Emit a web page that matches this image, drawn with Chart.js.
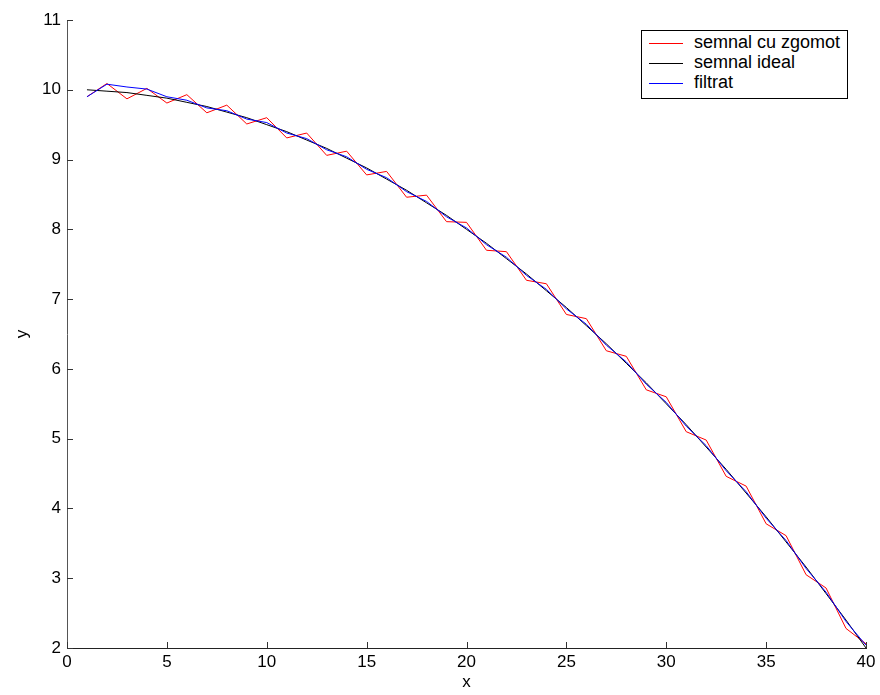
<!DOCTYPE html>
<html lang="ro">
<head>
    <meta charset="UTF-8">
    <title>semnal filtrat</title>
    <script src="https://cdn.jsdelivr.net/npm/chart.js"></script>
    <style>
        body { margin: 0; background: #fff; }
        .wrap { position: relative; width: 880px; height: 695px; }
        .legend {
            position: absolute; left: 641px; top: 30px; width: 205px; height: 67px;
            border: 1px solid #000; background: #fff;
            font-family: "Liberation Sans", Arial, sans-serif; font-size: 18px; color: #000;
        }
        .legend div { position: absolute; left: 0; height: 20px; line-height: 20px; white-space: nowrap; }
        .legend span { display: inline-block; width: 34px; height: 0; border-top: 1px solid; vertical-align: middle; margin: 0 11px 0 7px; }
    </style>
</head>
<body>
<div class="wrap">
    <canvas id="chart" width="880" height="695"></canvas>
    <div class="legend" id="legend"></div>
</div>
<script>
// samples 1..40
const xs = [1,2,3,4,5,6,7,8,9,10,11,12,13,14,15,16,17,18,19,20,
            21,22,23,24,25,26,27,28,29,30,31,32,33,34,35,36,37,38,39,40];
const noisy = [9.90,10.09,9.87,10.02,9.81,9.93,9.67,9.78,9.51,9.60,
               9.31,9.38,9.06,9.12,8.78,8.83,8.46,8.49,8.11,8.10,
               7.70,7.68,7.27,7.22,6.78,6.72,6.26,6.18,5.70,5.60,
               5.10,4.98,4.46,4.32,3.78,3.61,3.05,2.86,2.28,2.06];
const ideal = [10.00,9.98,9.96,9.92,9.88,9.82,9.76,9.68,9.60,9.50,
               9.40,9.28,9.16,9.02,8.88,8.72,8.56,8.38,8.20,8.00,
               7.80,7.58,7.36,7.12,6.88,6.62,6.36,6.08,5.80,5.50,
               5.20,4.88,4.56,4.22,3.88,3.52,3.16,2.78,2.40,2.00];
const filtered = [9.90,10.08,10.04,10.01,9.90,9.85,9.74,9.70,9.58,9.53,
                  9.38,9.30,9.14,9.04,8.86,8.74,8.54,8.40,8.18,8.02,
                  7.78,7.60,7.34,7.14,6.86,6.64,6.34,6.10,5.78,5.52,
                  5.18,4.90,4.54,4.24,3.86,3.54,3.14,2.80,2.38,2.04];
const xTicks = [0,5,10,15,20,25,30,35,40];
const yTicks = [2,3,4,5,6,7,8,9,10,11];
const seriesNames = ['semnal cu zgomot', 'semnal ideal', 'filtrat'];
const seriesColors = ['#ff0000', '#000000', '#0000ff'];

const font = { family: '"Liberation Sans", Arial, sans-serif', size: 17 };

function pts(ys) {
    return xs.map((x, i) => ({ x: x, y: ys[i] }));
}

// MATLAB style ticks pointing into the plot
const innerTicks = {
    id: 'innerTicks',
    afterDraw(chart) {
        const ctx = chart.ctx, a = chart.chartArea;
        const sx = chart.scales.x, sy = chart.scales.y;
        ctx.save();
        ctx.strokeStyle = '#333';
        ctx.lineWidth = 1;
        ctx.beginPath();
        xTicks.forEach(v => {
            const p = Math.round(sx.getPixelForValue(v)) + 0.5;
            ctx.moveTo(p, a.bottom); ctx.lineTo(p, a.bottom - 6);
        });
        yTicks.forEach(v => {
            const p = Math.round(sy.getPixelForValue(v)) + 0.5;
            ctx.moveTo(a.left, p); ctx.lineTo(a.left + 6, p);
        });
        ctx.stroke();
        ctx.restore();
    }
};

const datasets = [noisy, ideal, filtered].map((d, i) => ({
    label: seriesNames[i],
    data: pts(d),
    borderColor: seriesColors[i],
    borderWidth: 1,
    pointRadius: 0,
    tension: 0,
    order: 3 - i
}));

new Chart(document.getElementById('chart'), {
    type: 'line',
    data: { datasets: datasets },
    options: {
        responsive: false,
        animation: false,
        layout: { padding: { left: 0, right: 14, top: 20, bottom: 0 } },
        plugins: { legend: { display: false }, tooltip: { enabled: false } },
        scales: {
            x: {
                type: 'linear', min: 0, max: 40,
                afterBuildTicks: s => { s.ticks = xTicks.map(v => ({ value: v })); },
                afterFit: s => { s.height = 47; },
                grid: { display: false, drawTicks: false },
                border: { display: true, color: '#222', width: 1 },
                ticks: { color: '#000', font: font, padding: 4, maxRotation: 0 },
                title: { display: true, text: 'x', color: '#000', font: font, padding: { top: 0, bottom: 2 } }
            },
            y: {
                type: 'linear', min: 2, max: 11,
                afterBuildTicks: s => { s.ticks = yTicks.map(v => ({ value: v })); },
                afterFit: s => { s.width = 67; },
                grid: { display: false, drawTicks: false },
                border: { display: true, color: '#555', width: 1 },
                ticks: { color: '#000', font: font, padding: 6 },
                title: { display: true, text: 'y', color: '#000', font: font, padding: { top: 12, bottom: 0 } }
            }
        }
    },
    plugins: [innerTicks]
});

// legend box
const legend = document.getElementById('legend');
seriesNames.forEach((name, i) => {
    const row = document.createElement('div');
    row.style.top = (1 + i * 20) + 'px';
    row.innerHTML = '<span style="border-color:' + seriesColors[i] + '"></span>' + name;
    legend.appendChild(row);
});
</script>
</body>
</html>
